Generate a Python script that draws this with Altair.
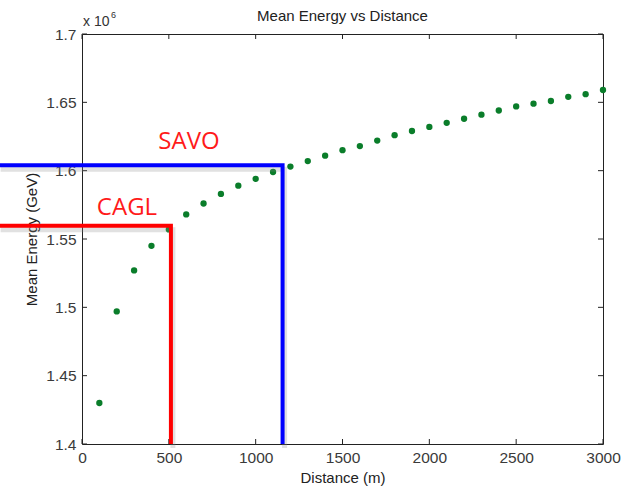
import altair as alt
import pandas as pd

# ---- data ----
distance_m = [100, 200, 300, 400, 500, 600, 700, 800, 900, 1000,
              1100, 1200, 1300, 1400, 1500, 1600, 1700, 1800, 1900, 2000,
              2100, 2200, 2300, 2400, 2500, 2600, 2700, 2800, 2900, 3000]
mean_energy_1e6_gev = [1.430, 1.497, 1.527, 1.545, 1.557, 1.568, 1.576, 1.583, 1.589, 1.594,
                       1.599, 1.603, 1.607, 1.611, 1.615, 1.618, 1.622, 1.626, 1.629, 1.632,
                       1.635, 1.638, 1.641, 1.644, 1.647, 1.649, 1.651, 1.654, 1.656, 1.659]

x_tick_values = [0, 500, 1000, 1500, 2000, 2500, 3000]
y_tick_values = [1.4, 1.45, 1.5, 1.55, 1.6, 1.65, 1.7]

site_names = ["CAGL", "SAVO"]
site_distance = [512, 1155]
site_energy = [1.5597, 1.6039]
site_colors = ["#ff0000", "#0000ff"]
line_start_distance = -480
label_distance = [259, 616]
label_energy = [1.5727, 1.6210]

x_domain = [0, 3000]
y_domain = [1.4, 1.7]

# ---- tables ----
points = pd.DataFrame({"Distance": distance_m, "Energy": mean_energy_1e6_gev})

path_rows = []
for name, d, e in zip(site_names, site_distance, site_energy):
    path_rows.append({"site": name, "order": 0, "Distance": line_start_distance, "Energy": e})
    path_rows.append({"site": name, "order": 1, "Distance": d, "Energy": e})
    path_rows.append({"site": name, "order": 2, "Distance": d, "Energy": y_domain[0]})
paths = pd.DataFrame(path_rows)

labels = pd.DataFrame({"site": site_names, "Distance": label_distance, "Energy": label_energy})
xt = pd.DataFrame({"Distance": x_tick_values})
yt = pd.DataFrame({"Energy": y_tick_values})
corner = pd.DataFrame({"Distance": [0], "Energy": [y_domain[1]]})

xs = alt.Scale(domain=x_domain, nice=False, zero=False)
ys = alt.Scale(domain=y_domain, nice=False, zero=False)
W, H = 521, 410
FONT = "Liberation Sans"

x_axis = alt.Axis(values=x_tick_values, format="d", title="Distance (m)",
                  labelFlush=False, titlePadding=5)
y_axis = alt.Axis(values=y_tick_values, format=".2~f", title="Mean Energy (GeV)",
                  labelFlush=False, titlePadding=6)


def X():
    return alt.X("Distance:Q", scale=xs, axis=x_axis)


def Y():
    return alt.Y("Energy:Q", scale=ys, axis=y_axis)


pts = alt.Chart(points).mark_circle(size=40, color="#0a7d2a", opacity=1).encode(x=X(), y=Y())

color_enc = alt.Color("site:N", scale=alt.Scale(domain=site_names, range=site_colors), legend=None)

shadow = alt.Chart(paths).mark_line(clip=False, strokeWidth=5, color="#888888", opacity=0.25,
                                     xOffset=2, yOffset=4, strokeJoin="miter").encode(
    x=X(), y=Y(), detail="site:N", order="order:Q")

lines = alt.Chart(paths).mark_line(clip=False, strokeWidth=4, strokeCap="butt", strokeJoin="miter").encode(
    x=X(), y=Y(), color=color_enc, detail="site:N", order="order:Q")

txt = alt.Chart(labels).mark_text(font="Open Sans", fontSize=24, color="#ff1a1a",
                                  align="center", baseline="middle").encode(
    x=X(), y=Y(), text="site:N")

tick_style = dict(color="#222222", strokeWidth=1)
bt = alt.Chart(xt).mark_rule(**tick_style).encode(x=X(), y=alt.value(H), y2=alt.value(H - 5))
tt = alt.Chart(xt).mark_rule(**tick_style).encode(x=X(), y=alt.value(0), y2=alt.value(5))
lt = alt.Chart(yt).mark_rule(**tick_style).encode(y=Y(), x=alt.value(0), x2=alt.value(5))
rt = alt.Chart(yt).mark_rule(**tick_style).encode(y=Y(), x=alt.value(W), x2=alt.value(W - 5))

mult = alt.Chart(corner).mark_text(font=FONT, fontSize=14, color="#333333", align="left",
                                   baseline="alphabetic", dx=1, dy=-8, clip=False).encode(
    x=X(), y=Y(), text=alt.value("x 10"))
sup = alt.Chart(corner).mark_text(font=FONT, fontSize=9, color="#333333", align="left",
                                  baseline="alphabetic", dx=29, dy=-16, clip=False).encode(
    x=X(), y=Y(), text=alt.value("6"))

chart = alt.layer(pts, bt, tt, lt, rt, shadow, lines, txt, mult, sup).properties(
    width=W, height=H,
    title=alt.TitleParams("Mean Energy vs Distance", font=FONT, fontSize=15,
                          fontWeight="normal", color="#222222", offset=-13),
    autosize=alt.AutoSizeParams(type="none"),
    padding={"left": 82, "top": 34, "right": 29, "bottom": 48},
    background="white",
).configure_view(stroke="#222222", strokeWidth=1).configure_axis(
    labelFont=FONT, labelFontSize=15.5, labelColor="#3a3a3a", labelPadding=6,
    ticks=False, domain=False, grid=False,
    titleFont=FONT, titleFontSize=15, titleFontWeight="normal", titleColor="#222222",
)

chart.save("out.html", embed_options={"renderer": "svg", "actions": False})
